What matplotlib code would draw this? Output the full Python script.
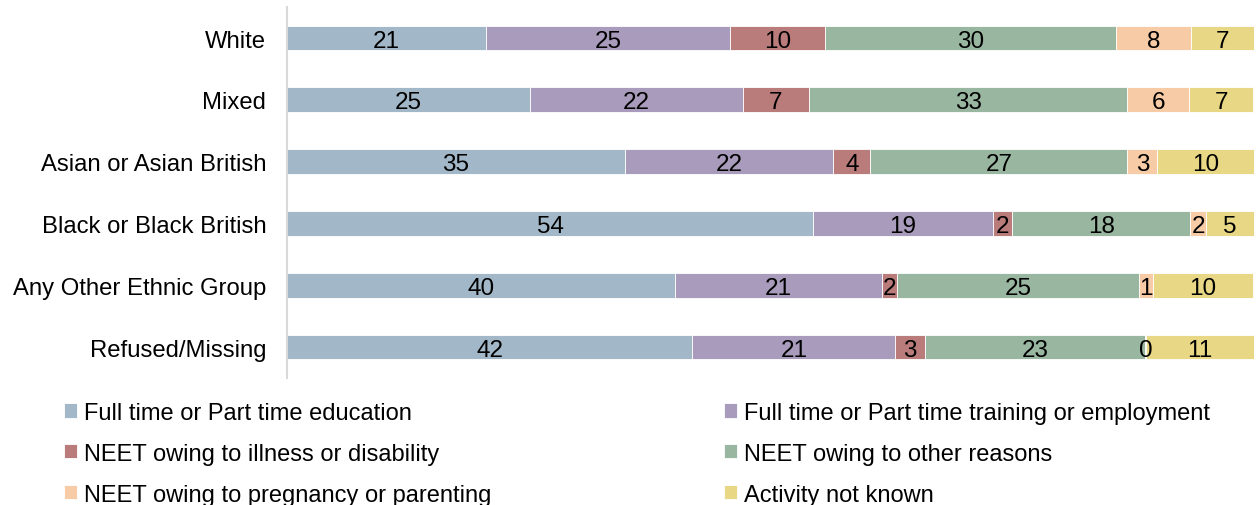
import matplotlib.pyplot as plt
import numpy as np

plt.rcParams['font.family'] = ['Liberation Sans', 'DejaVu Sans']

groups = ["White", "Mixed", "Asian or Asian British", "Black or Black British",
          "Any Other Ethnic Group", "Refused/Missing"]

# percentages per group
education = [20.6, 25.1, 34.9, 54.4, 40.1, 41.9]
training = [25.2, 22.0, 21.6, 18.6, 21.4, 21.0]
illness = [9.8, 6.9, 3.8, 2.0, 1.6, 3.1]
other_reasons = [30.1, 32.9, 26.6, 18.4, 25.0, 22.7]
pregnancy = [7.8, 6.4, 3.1, 1.6, 1.4, 0.1]
not_known = [6.55, 6.6, 10.1, 5.1, 10.4, 11.3]

series = [
    ("Full time or Part time education", education, "#A2B8C8"),
    ("Full time or Part time training or employment", training, "#A89BBB"),
    ("NEET owing to illness or disability", illness, "#BA7B7B"),
    ("NEET owing to other reasons", other_reasons, "#99B6A0"),
    ("NEET owing to pregnancy or parenting", pregnancy, "#F7CBA6"),
    ("Activity not known", not_known, "#E8D886"),
]

fig = plt.figure(figsize=(12.56, 5.06), dpi=100)
ax = fig.add_axes([0.2285, 0.251, 0.77, 0.733])

y = np.arange(len(groups))
left = np.zeros(len(groups))
handles = []
for name, vals, color in series:
    bars = ax.barh(y, vals, left=left, height=0.4, color=color, label=name,
                   edgecolor="white", linewidth=0.6)
    labels = ax.bar_label(bars, fmt="%.0f", label_type="center", fontsize=17.5)
    for t in labels:
        t.set_va("center_baseline")
    handles.append(bars)
    left += np.array(vals)

ax.set_xlim(0, 100)
ax.set_ylim(len(groups) - 0.5, -0.5)
ax.set_yticks(y)
ax.set_yticklabels(groups, fontsize=17.2)
ax.tick_params(axis="y", length=0, pad=15)
ax.set_xticks([])
for side in ["top", "right", "bottom"]:
    ax.spines[side].set_visible(False)
ax.spines["left"].set_color("#D9D9D9")
ax.spines["left"].set_linewidth(1.5)

leg_kw = dict(frameon=False, fontsize=17, handlelength=0.55, handleheight=0.55,
              handletextpad=0.3, labelspacing=0.8, borderpad=0, borderaxespad=0)
fig.legend([handles[0], handles[2], handles[4]],
           [series[0][0], series[2][0], series[4][0]],
           loc="upper left", bbox_to_anchor=(0.0506, 0.204), **leg_kw)
fig.legend([handles[1], handles[3], handles[5]],
           [series[1][0], series[3][0], series[5][0]],
           loc="upper left", bbox_to_anchor=(0.5763, 0.204), **leg_kw)

fig.savefig("out.png", dpi=100)
